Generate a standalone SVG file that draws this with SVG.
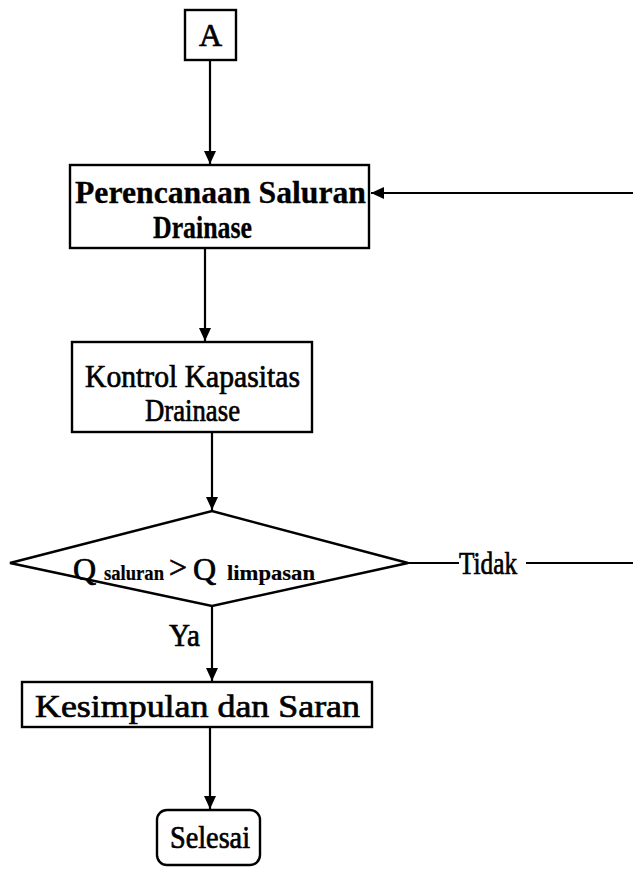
<svg xmlns="http://www.w3.org/2000/svg" width="633" height="880" viewBox="0 0 633 880">
<style>
.box{fill:#fff;stroke:#000;stroke-width:2.4}
.ln{fill:none;stroke:#000;stroke-width:2.2}
.t{font-family:"Liberation Serif","Times New Roman",serif;fill:#000;stroke:#000;stroke-width:0.7;font-size:32px}
.b{font-weight:bold;stroke-width:0.3}
.s{font-size:21px;font-weight:bold;stroke-width:0.2}
</style>
<defs>
<marker id="ah" viewBox="0 0 13 12" refX="13" refY="6" markerWidth="13" markerHeight="12" markerUnits="userSpaceOnUse" orient="auto">
<path d="M0,0 L13,6 L0,12 Z" fill="#000"/>
</marker>
</defs>
<rect width="633" height="880" fill="#fff"/>
<g id="connectors">
<line class="ln" x1="210" y1="61" x2="210" y2="164" marker-end="url(#ah)"/>
<line class="ln" x1="205" y1="249" x2="205" y2="341" marker-end="url(#ah)"/>
<line class="ln" x1="212" y1="433" x2="212" y2="510" marker-end="url(#ah)"/>
<line class="ln" x1="212" y1="606" x2="212" y2="681" marker-end="url(#ah)"/>
<line class="ln" x1="210" y1="728" x2="210" y2="809" marker-end="url(#ah)"/>
<line class="ln" x1="408" y1="563" x2="459" y2="563"/>
<line class="ln" x1="526" y1="563" x2="633" y2="563"/>
<line class="ln" x1="633" y1="193" x2="371" y2="193" marker-end="url(#ah)"/>
<text class="t" x="459" y="574" textLength="58" lengthAdjust="spacingAndGlyphs">Tidak</text>
<text class="t" x="169" y="646" textLength="31" lengthAdjust="spacingAndGlyphs">Ya</text>
</g>
<g id="nodeA">
<rect class="box" x="185" y="10" width="51" height="50"/>
<text class="t" x="210.5" y="46" text-anchor="middle">A</text>
</g>
<g id="node-perencanaan">
<rect class="box" x="70" y="165" width="299" height="83"/>
<text class="t b" x="75" y="203" textLength="291" lengthAdjust="spacingAndGlyphs">Perencanaan Saluran</text>
<text class="t b" x="153" y="238" textLength="99" lengthAdjust="spacingAndGlyphs">Drainase</text>
</g>
<g id="node-kontrol">
<rect class="box" x="72" y="342" width="240" height="90"/>
<text class="t" x="85" y="387" textLength="215" lengthAdjust="spacingAndGlyphs">Kontrol Kapasitas</text>
<text class="t" x="145" y="421" textLength="95" lengthAdjust="spacingAndGlyphs">Drainase</text>
</g>
<g id="node-decision">
<polygon class="box" points="10,563 212,511 408,563 212,606"/>
<text class="t" x="73" y="580" font-size="34">Q</text>
<text class="t s" x="104" y="580" textLength="60" lengthAdjust="spacingAndGlyphs">saluran</text>
<text class="t" x="169" y="578">&gt;</text>
<text class="t" x="193" y="580" font-size="34">Q</text>
<text class="t s" x="227" y="580" textLength="88" lengthAdjust="spacingAndGlyphs">limpasan</text>
</g>
<g id="node-kesimpulan">
<rect class="box" x="22" y="682" width="350" height="45"/>
<text class="t" x="35" y="717" textLength="325" lengthAdjust="spacingAndGlyphs">Kesimpulan dan Saran</text>
</g>
<g id="node-selesai">
<rect class="box" x="157" y="810" width="103" height="55" rx="10"/>
<text class="t" x="170" y="848" textLength="80" lengthAdjust="spacingAndGlyphs">Selesai</text>
</g>
</svg>
